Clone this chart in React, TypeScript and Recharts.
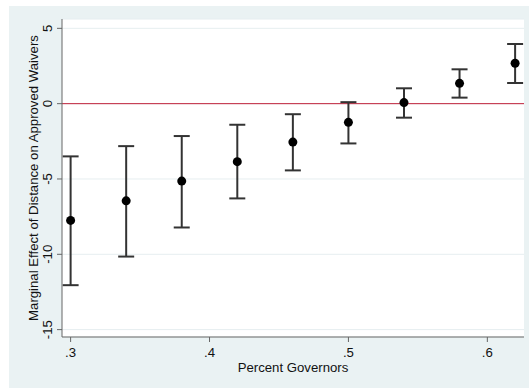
import React from 'react'
import { ComposedChart, Scatter, ErrorBar, XAxis, YAxis, CartesianGrid, ReferenceLine } from 'recharts'

const share = [0.3, 0.34, 0.38, 0.42, 0.46, 0.5, 0.54, 0.58, 0.62]
const effect = [-7.75, -6.45, -5.14, -3.85, -2.55, -1.24, 0.07, 1.35, 2.68]
const lower = [-12.05, -10.15, -8.22, -6.29, -4.43, -2.64, -0.93, 0.4, 1.37]
const upper = [-3.5, -2.82, -2.15, -1.4, -0.7, 0.1, 1.02, 2.28, 3.96]
const xTicks = [0.3, 0.4, 0.5, 0.6]
const yTicks = [5, 0, -5, -10, -15]

const data = share.map((s, i) => ({
  x: s,
  y: effect[i],
  err: [effect[i] - lower[i], upper[i] - effect[i]],
}))

const FONT = '"Liberation Sans", Arial, sans-serif'
const BG = '#eaf2f3'
const FS = 13.2

const fmtX = (v: number) => String(v.toFixed(1)).replace(/^0/, '')

const YTick = ({ x, y, payload }: any) => (
  <text
    x={x - 7.5}
    y={y}
    transform={`rotate(-90 ${x - 7.5} ${y})`}
    textAnchor="middle"
    dominantBaseline="central"
    fontFamily={FONT}
    fontSize={FS}
    fill="#111"
  >
    {payload.value}
  </text>
)

const XTick = ({ x, y, payload }: any) => (
  <text x={x} y={y + 8} textAnchor="middle" dominantBaseline="central" fontFamily={FONT} fontSize={FS} fill="#111">
    {fmtX(payload.value)}
  </text>
)

const YLabel = ({ viewBox }: any) => {
  const cx = viewBox.x + 24
  const cy = viewBox.y + viewBox.height / 2
  return (
    <text
      x={cx}
      y={cy}
      transform={`rotate(-90 ${cx} ${cy})`}
      textAnchor="middle"
      dominantBaseline="central"
      fontFamily={FONT}
      fontSize={FS}
      fill="#111"
    >
      Marginal Effect of Distance on Approved Waivers
    </text>
  )
}

const XLabel = ({ viewBox }: any) => (
  <text
    x={viewBox.x + viewBox.width / 2}
    y={viewBox.y + 30}
    textAnchor="middle"
    dominantBaseline="central"
    fontFamily={FONT}
    fontSize={FS}
    fill="#111"
  >
    Percent Governors
  </text>
)

const Dot = ({ cx, cy }: any) => <circle cx={cx} cy={cy} r={4.5} fill="#000" />

export default function App() {
  return (
    <div style={{ position: 'absolute', left: 0, top: 0, width: 529, height: 388, background: '#fff' }}>
      <div style={{ position: 'absolute', left: 9, top: 6, width: 520, height: 382, background: BG }}>
        <ComposedChart width={520} height={382} margin={{ top: 13, right: 5, bottom: 0, left: 0 }} data={data}>
          <CartesianGrid vertical={false} fill="#ffffff" stroke="#e6eef0" />
          <XAxis
            type="number"
            dataKey="x"
            domain={[0.2938, 0.6264]}
            ticks={xTicks}
            allowDataOverflow
            height={51}
            stroke="#666"
            tickSize={5}
            tick={<XTick />}
            label={<XLabel />}
          />
          <YAxis
            type="number"
            dataKey="y"
            domain={[-15.49, 5.62]}
            ticks={yTicks}
            allowDataOverflow
            width={53}
            stroke="#666"
            tickSize={5}
            tick={<YTick />}
            label={<YLabel />}
          />
          <ReferenceLine y={0} stroke="#c0223b" strokeWidth={1} />
          <Scatter data={data} dataKey="y" shape={<Dot />} isAnimationActive={false}>
            <ErrorBar dataKey="err" direction="y" width={8} stroke="#333" strokeWidth={2} />
          </Scatter>
        </ComposedChart>
      </div>
    </div>
  )
}
